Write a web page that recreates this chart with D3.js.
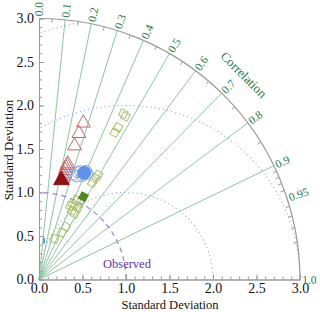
<!DOCTYPE html>
<html><head><meta charset="utf-8">
<script src="https://cdn.jsdelivr.net/npm/d3@7"></script>
<style>body{margin:0;background:#fff}svg{display:block}</style>
</head><body>
<svg id="c" width="320" height="312"></svg>
<script>
// ---- data ----
const sdMajor = [0, 0.5, 1.0, 1.5, 2.0, 2.5, 3.0];
const sdMinor = d3.range(0, 30.5, 1).map(d => d / 10);
const corrLineValues = [0.1, 0.2, 0.3, 0.4, 0.5, 0.6, 0.7, 0.8, 0.9];
const corrLabelValues = [0.0, 0.1, 0.2, 0.3, 0.4, 0.5, 0.6, 0.7, 0.8, 0.9, 0.95, 1.0];
const corrLabelText = ["0.0","0.1","0.2","0.3","0.4","0.5","0.6","0.7","0.8","0.9","0.95","1.0"];
const corrMinor = [0.05,0.15,0.25,0.35,0.45,0.55,0.65,0.75,0.85,0.91,0.92,0.93,0.94,0.96,0.97,0.98,0.99];
const rmsRadii = [1, 2, 3];
const observedSD = 1.0;

// model points: standard deviation and correlation
const redFilledSD = [1.17];
const redFilledCorr = [0.22];
const redHollowSD = [1.19, 1.22, 1.25, 1.29, 1.32, 1.35, 1.37, 1.59, 1.74, 1.87];
const redHollowCorr = [0.227, 0.229, 0.231, 0.233, 0.235, 0.237, 0.241, 0.257, 0.264, 0.273];
const blueFilledSD = [1.33];
const blueFilledCorr = [0.39];
const blueHollowSD = [1.27, 1.31, 1.33, 1.36, 1.34, 1.26, 1.29];
const blueHollowCorr = [0.314, 0.337, 0.354, 0.397, 0.417, 0.342, 0.387];
const blueSmallSD = [0.45];
const blueSmallCorr = [0.13];
const greenFilledSD = [1.08];
const greenFilledCorr = [0.473];
const greenHollowSD = [0.92, 0.95, 1.01, 0.88, 0.86, 0.94, 1.00, 1.27, 1.33, 1.38, 0.50, 0.60, 0.68, 2.14, 2.12, 1.97, 1.90];
const greenHollowCorr = [0.390, 0.409, 0.427, 0.433, 0.475, 0.477, 0.471, 0.482, 0.483, 0.493, 0.358, 0.434, 0.453, 0.453, 0.468, 0.461, 0.458];

// ---- layout ----
const cx = 39, cy = 279.5;
const r = d3.scaleLinear().domain([0, 3]).range([0, 261]);
const R = r(3);
const svg = d3.select("#c");
const serif = "'Liberation Serif','DejaVu Serif',serif";
const px = (sd, c) => cx + r(sd) * c;
const py = (sd, c) => cy - r(sd) * Math.sqrt(Math.max(0, 1 - c * c));
const zip = (a, b) => a.map((d, i) => ({sd: d, c: b[i]}));

// clip: quarter disk
const defs = svg.append("defs");
defs.append("clipPath").attr("id", "q").append("path")
  .attr("d", `M${cx},${cy} L${cx},${cy - R} A${R},${R} 0 0 1 ${cx + R},${cy} Z`);

// correlation lines
svg.append("g").selectAll("line").data(corrLineValues).join("line")
  .attr("x1", cx).attr("y1", cy)
  .attr("x2", c => px(3, c)).attr("y2", c => py(3, c))
  .attr("stroke", "#8cc5a2").attr("stroke-width", 1);

// RMS circles (centered on observed point)
const gClip = svg.append("g").attr("clip-path", "url(#q)");
gClip.selectAll("circle.rms").data(rmsRadii).join("circle")
  .attr("cx", cx + r(observedSD)).attr("cy", cy).attr("r", d => r(d))
  .attr("fill", "none").attr("stroke", "#9fb2e2").attr("stroke-width", 1.2)
  .attr("stroke-dasharray", "1.2,3");

// observed arc
gClip.append("circle").attr("cx", cx).attr("cy", cy).attr("r", r(observedSD))
  .attr("fill", "none").attr("stroke", "#9b7fd4").attr("stroke-width", 1.2)
  .attr("stroke-dasharray", "5,4");
svg.append("text").attr("x", 103).attr("y", 268).text("Observed")
  .attr("font-family", serif).attr("font-size", 12.5).attr("fill", "#5f35a8");

// axes
const yScale = d3.scaleLinear().domain([0, 3]).range([cy, cy - R]);
const xScale = d3.scaleLinear().domain([0, 3]).range([cx, cx + R]);
const axStyle = g => {
  g.select(".domain").attr("stroke", "#999");
  g.selectAll(".tick line").attr("stroke", "#999");
  g.selectAll("text").attr("font-family", serif).attr("font-size", 14).attr("fill", "#111");
};
svg.append("g").attr("transform", `translate(${cx},0)`)
  .call(d3.axisLeft(yScale).tickValues(sdMinor).tickSizeInner(-3).tickSizeOuter(0).tickFormat(""))
  .call(axStyle);
svg.append("g").attr("transform", `translate(${cx},0)`)
  .call(d3.axisLeft(yScale).tickValues(sdMajor).tickSizeInner(-5).tickSizeOuter(0).tickPadding(5).tickFormat(d3.format(".1f")))
  .call(axStyle);
svg.append("g").attr("transform", `translate(0,${cy})`)
  .call(d3.axisBottom(xScale).tickValues(sdMinor).tickSizeInner(-3).tickSizeOuter(0).tickFormat(""))
  .call(axStyle);
svg.append("g").attr("transform", `translate(0,${cy})`)
  .call(d3.axisBottom(xScale).tickValues(sdMajor).tickSizeInner(-5).tickSizeOuter(0).tickPadding(4).tickFormat(d3.format(".1f")))
  .call(axStyle);

// outer arc
svg.append("path")
  .attr("d", `M${cx},${cy - R} A${R},${R} 0 0 1 ${cx + R},${cy}`)
  .attr("fill", "none").attr("stroke", "#999").attr("stroke-width", 1.2);

// correlation minor ticks
svg.append("g").selectAll("line").data(corrMinor).join("line")
  .attr("x1", c => px(3, c)).attr("y1", c => py(3, c))
  .attr("x2", c => px(2.955, c)).attr("y2", c => py(2.955, c))
  .attr("stroke", "#999").attr("stroke-width", 1);

// correlation labels
svg.append("g").selectAll("text").data(corrLabelValues).join("text")
  .attr("transform", (c, i) => {
    const a = Math.acos(c) * 180 / Math.PI;
    return `translate(${px(3.025, c)},${py(3.025, c)}) rotate(${-a})`;
  })
  .attr("dy", "0.35em").attr("text-anchor", "start")
  .attr("font-family", serif).attr("font-size", 11.5).attr("fill", "#1f7a45")
  .text((c, i) => corrLabelText[i]);

svg.append("text")
  .attr("transform", `translate(${px(3.33, 0.707)},${py(3.33, 0.707)}) rotate(45)`)
  .attr("text-anchor", "middle").attr("dy", "0.35em")
  .attr("font-family", serif).attr("font-size", 13).attr("fill", "#1f7a45")
  .text("Correlation");

// axis titles
svg.append("text").attr("x", 170).attr("y", 309).attr("text-anchor", "middle")
  .attr("font-family", serif).attr("font-size", 12.5).attr("fill", "#111").text("Standard Deviation");
svg.append("text").attr("transform", "translate(13,150) rotate(-90)").attr("text-anchor", "middle")
  .attr("font-family", serif).attr("font-size", 13).attr("fill", "#111").text("Standard Deviation");

// markers
const gm = svg.append("g");
const sq = d3.symbol().type(d3.symbolSquare).size(52);

gm.selectAll("path.gh").data(zip(greenHollowSD, greenHollowCorr)).join("path")
  .attr("d", sq)
  .attr("transform", d => `translate(${px(d.sd, d.c)},${py(d.sd, d.c)}) rotate(${-Math.acos(d.c) * 180 / Math.PI})`)
  .attr("fill", "none").attr("stroke", "#a9c06a").attr("stroke-width", 1);

gm.selectAll("path.gf").data(zip(greenFilledSD, greenFilledCorr)).join("path")
  .attr("d", sq)
  .attr("transform", d => `translate(${px(d.sd, d.c)},${py(d.sd, d.c)}) rotate(${-Math.acos(d.c) * 180 / Math.PI})`)
  .attr("fill", "#4e8a1e").attr("stroke", "#4e8a1e");

gm.selectAll("path.rh").data(zip(redHollowSD, redHollowCorr)).join("path")
  .attr("d", d3.symbol().type(d3.symbolTriangle).size(85))
  .attr("transform", d => `translate(${px(d.sd, d.c)},${py(d.sd, d.c)})`)
  .attr("fill", "none").attr("stroke", "#c46a6a").attr("stroke-width", 1);

gm.selectAll("path.rf").data(zip(redFilledSD, redFilledCorr)).join("path")
  .attr("d", d3.symbol().type(d3.symbolTriangle).size(105))
  .attr("transform", d => `translate(${px(d.sd, d.c)},${py(d.sd, d.c)})`)
  .attr("fill", "#8e1010").attr("stroke", "#8e1010");

gm.selectAll("circle.bh").data(zip(blueHollowSD, blueHollowCorr)).join("circle")
  .attr("cx", d => px(d.sd, d.c)).attr("cy", d => py(d.sd, d.c)).attr("r", 5.5)
  .attr("fill", "none").attr("stroke", "#7aa4ee").attr("stroke-width", 1);

gm.selectAll("circle.bf").data(zip(blueFilledSD, blueFilledCorr)).join("circle")
  .attr("cx", d => px(d.sd, d.c)).attr("cy", d => py(d.sd, d.c)).attr("r", 6.5)
  .attr("fill", "#5f92ec").attr("stroke", "#5f92ec");

gm.selectAll("rect.bs").data(zip(blueSmallSD, blueSmallCorr)).join("rect")
  .attr("x", d => px(d.sd, d.c) - 1).attr("y", d => py(d.sd, d.c) - 3)
  .attr("width", 2).attr("height", 6).attr("fill", "#6b95dd");
</script>
</body></html>
